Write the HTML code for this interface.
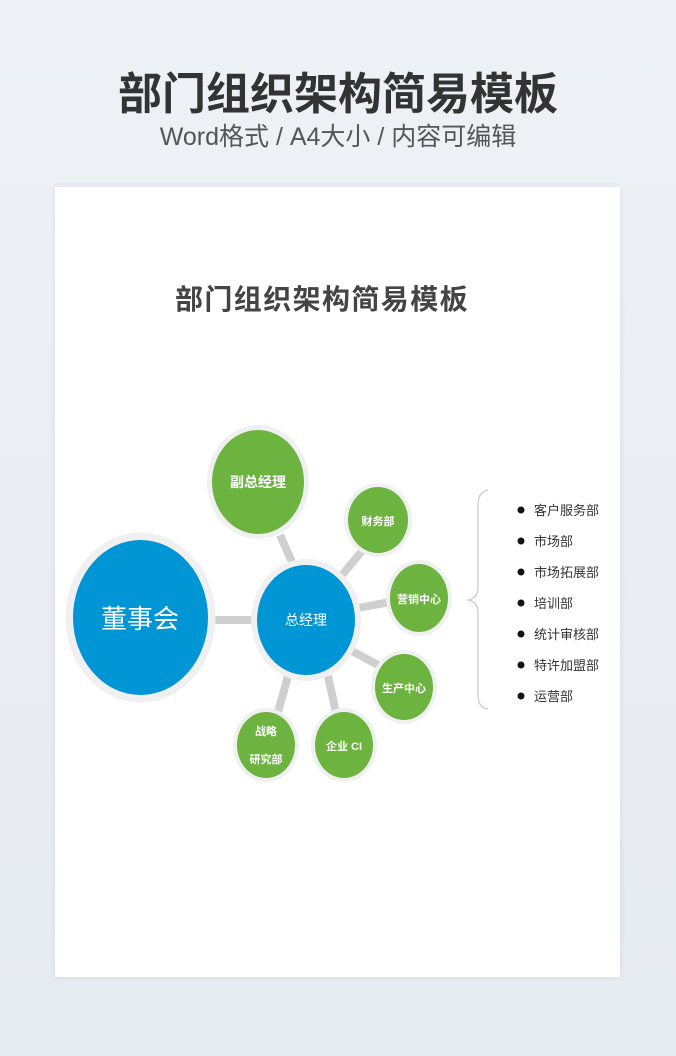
<!DOCTYPE html>
<html><head><meta charset="utf-8"><style>
body{margin:0;width:676px;height:1056px;background:linear-gradient(#eef1f5,#e6eaf1);font-family:"Liberation Sans","Noto Sans CJK SC",sans-serif;position:relative;overflow:hidden}
.t{position:absolute;left:0;width:676px;text-align:center}
</style></head><body>
<div class="t" style="top:67px;font-size:44px;font-weight:bold;color:#333;line-height:56px">部门组织架构简易模板</div>
<div class="t" style="top:120px;font-size:25px;color:#555;line-height:34px">Word格式 / A4大小 / 内容可编辑</div>
<div style="position:absolute;left:55px;top:187px;width:565px;height:790px;background:#fff;box-shadow:0 0 6px rgba(0,0,0,0.08)"></div>
<div style="position:absolute;left:175px;top:282px;font-size:28px;font-weight:bold;color:#444;line-height:36px;white-space:nowrap;letter-spacing:1.4px">部门组织架构简易模板</div>
<svg style="position:absolute;left:0;top:0" width="676" height="1056" font-family="Liberation Sans, Noto Sans CJK SC, sans-serif">
<g stroke="#cfcfcf" stroke-width="8">
<line x1="215" y1="620" x2="260" y2="620"/>
<line x1="280" y1="535" x2="292" y2="562"/>
<line x1="342" y1="575" x2="362" y2="551"/>
<line x1="358" y1="608" x2="390" y2="602"/>
<line x1="350" y1="650" x2="380" y2="666"/>
<line x1="328" y1="676" x2="336" y2="713"/>
<line x1="288" y1="676" x2="278" y2="712"/>
</g>
<g fill="#f0f0f0">
<ellipse cx="140.5" cy="617.5" rx="75" ry="85"/>
<ellipse cx="306" cy="620" rx="55" ry="61"/>
<ellipse cx="258" cy="482" rx="51" ry="57"/>
<ellipse cx="378" cy="520" rx="34" ry="37"/>
<ellipse cx="419" cy="598" rx="33" ry="38"/>
<ellipse cx="404" cy="687" rx="33" ry="37"/>
<ellipse cx="344" cy="745" rx="33" ry="37"/>
<ellipse cx="266" cy="745" rx="33" ry="37"/>
</g>
<ellipse cx="140.5" cy="617.5" rx="67.5" ry="77.5" fill="#0095d5"/>
<ellipse cx="306" cy="620" rx="49" ry="55" fill="#0095d5"/>
<g fill="#6db33f">
<ellipse cx="258" cy="482" rx="46" ry="52"/>
<ellipse cx="378" cy="520" rx="30" ry="33"/>
<ellipse cx="419" cy="598" rx="29" ry="34"/>
<ellipse cx="404" cy="687" rx="29" ry="33"/>
<ellipse cx="344" cy="745" rx="29" ry="33"/>
<ellipse cx="266" cy="745" rx="29" ry="33"/>
</g>
<g fill="#fff" text-anchor="middle" font-weight="bold">
<text x="140" y="628" font-size="26" font-weight="normal">董事会</text>
<text x="306" y="625" font-size="14" font-weight="normal">总经理</text>
<text x="258" y="487" font-size="14">副总经理</text>
<text x="378" y="525" font-size="11">财务部</text>
<text x="419" y="603" font-size="11">营销中心</text>
<text x="404" y="692" font-size="11">生产中心</text>
<text x="344" y="750" font-size="11">企业 CI</text>
<text x="266" y="735" font-size="11">战略</text>
<text x="266" y="763" font-size="11">研究部</text>
</g>
<path d="M488 490 Q478 492 478 505 L478 588 Q478 598 468 600 Q478 602 478 612 L478 695 Q478 708 488 709" fill="none" stroke="#c8c8c8" stroke-width="1.2"/>
<g fill="#111"><circle cx="521" cy="510" r="3.5"/><circle cx="521" cy="541" r="3.5"/><circle cx="521" cy="572" r="3.5"/><circle cx="521" cy="603" r="3.5"/><circle cx="521" cy="634" r="3.5"/><circle cx="521" cy="665" r="3.5"/><circle cx="521" cy="696" r="3.5"/></g>
<g fill="#333" font-size="13">
<text x="534" y="515">客户服务部</text>
<text x="534" y="546">市场部</text>
<text x="534" y="577">市场拓展部</text>
<text x="534" y="608">培训部</text>
<text x="534" y="639">统计审核部</text>
<text x="534" y="670">特许加盟部</text>
<text x="534" y="701">运营部</text>
</g>
</svg>
</body></html>
